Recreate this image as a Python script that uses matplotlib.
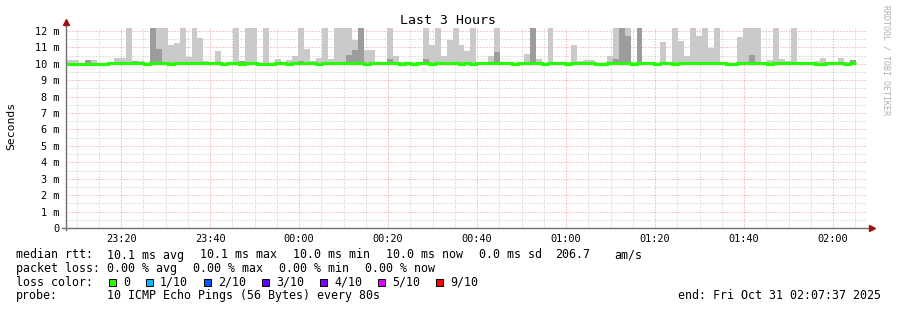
#smokeping style "Last 3 Hours" latency graph, redrawn with matplotlib

import numpy as np
import pandas as pd
import matplotlib
matplotlib.use("Agg")
import matplotlib.pyplot as plt
import matplotlib.dates as mdates
from matplotlib.patches import Rectangle

W, H = 897, 310

#time range of the graph and the probe step
END = "2025-10-31 02:07:37"
FIRST_STEP = "2025-10-30 23:07:50"
STEP_S = 80

F = 12.5 #smoke that runs off the top of the graph (ms)
SMOKE_MIN = 9.96 #lowest ping of the smoke (ms)

#highest ping of each step (light grey smoke), ms
smoke_top = [
    10.25, 10.25, 10.05, 10.25, 10.25, 10.05, 10.05, 10.05, 10.35, 10.35,
    F, 10.15, 10.15, 10.05, F, F, F, 11.15, 11.25, F,
    10.4, F, 11.6, 10.15, 10.1, 10.8, 10.05, 10.12, F, 10.2,
    F, F, 10.05, F, 10.05, 10.3, 10.05, 10.25, 10.45, F,
    10.9, 10.15, 10.35, F, 10.3, F, F, F, 11.45, F,
    10.85, 10.85, 10.05, 10.05, F, 10.5, 10.1, 10.05, 10.05, 10.12,
    F, 11.15, F, 10.45, 11.45, F, 11.15, 10.75, F, 10.12,
    10.05, 10.45, F, 10.05, 10.05, 10.05, 10.05, 10.6, F, 10.3,
    10.05, F, 10.05, 10.05, 10.1, 11.15, 10.2, 10.25, 10.25, 10.05,
    10.05, 10.5, F, F, F, 10.05, F, 10.05, 10.05, 10.05,
    11.35, 10.05, F, 11.4, 10.5, F, 11.7, F, 10.95, F,
    10.1, 10.05, 10.05, 11.65, F, F, F, 10.05, 10.25, F,
    10.3, 10.15, F, 10.1, 10.05, 10.05, 10.15, 10.35, 10.05, 10.05,
    10.35, 10.1, 10.25,
]

#second highest ping of each step (dark grey smoke), ms
smoke_dark = [
    10.0, 10.0, 10.0, 10.25, 10.0, 10.0, 10.0, 10.0, 10.0, 10.0,
    10.0, 10.15, 10.0, 10.0, F, 10.9, 10.0, 10.0, 10.0, 10.0,
    10.0, 10.0, 10.0, 10.12, 10.0, 10.0, 10.0, 10.0, 10.0, 10.15,
    10.0, 10.0, 10.0, 10.0, 10.0, 10.0, 10.0, 10.0, 10.0, 10.15,
    10.0, 10.0, 10.0, 10.0, 10.0, 10.0, 10.0, 10.55, 10.85, F,
    10.0, 10.0, 10.0, 10.0, 10.3, 10.0, 10.0, 10.0, 10.0, 10.0,
    10.3, 10.0, 10.0, 10.0, 10.0, 10.0, 10.0, 10.0, 10.0, 10.0,
    10.0, 10.0, 10.7, 10.0, 10.0, 10.0, 10.0, 10.0, F, 10.0,
    10.0, 10.0, 10.0, 10.0, 10.0, 10.0, 10.0, 10.0, 10.0, 10.0,
    10.0, 10.0, 10.3, F, 11.7, 10.0, F, 10.0, 10.0, 10.0,
    10.0, 10.0, 10.0, 10.0, 10.0, 10.0, 10.0, 10.0, 10.0, 10.0,
    10.0, 10.0, 10.0, 10.0, 10.0, 10.55, 10.0, 10.0, 10.0, 10.0,
    10.0, 10.0, 10.0, 10.0, 10.0, 10.0, 10.0, 10.0, 10.0, 10.0,
    10.0, 10.0, 10.25,
]

#median rtt of each step, ms
median_rtt = [
    10.01, 10.01, 10.01, 10.01, 10.01, 10.01, 10.01, 10.07, 10.07, 10.07,
    10.04, 10.04, 10.04, 10.00, 10.07, 10.07, 10.07, 10.00, 10.07, 10.04,
    10.04, 10.04, 10.04, 10.04, 10.04, 10.07, 10.01, 10.04, 10.04, 10.00,
    10.04, 10.04, 10.01, 10.00, 10.00, 10.04, 10.04, 10.01, 10.04, 10.07,
    10.07, 10.04, 10.00, 10.04, 10.04, 10.04, 10.04, 10.07, 10.07, 10.07,
    10.01, 10.04, 10.04, 10.04, 10.07, 10.04, 10.01, 10.04, 10.01, 10.04,
    10.04, 10.00, 10.04, 10.07, 10.04, 10.04, 10.01, 10.04, 10.00, 10.04,
    10.04, 10.04, 10.07, 10.04, 10.04, 10.01, 10.04, 10.04, 10.07, 10.04,
    10.01, 10.04, 10.04, 10.04, 10.01, 10.04, 10.04, 10.04, 10.04, 10.00,
    10.00, 10.04, 10.04, 10.07, 10.04, 10.00, 10.04, 10.04, 10.07, 10.01,
    10.04, 10.04, 10.01, 10.04, 10.04, 10.04, 10.04, 10.04, 10.04, 10.04,
    10.04, 10.01, 10.01, 10.04, 10.04, 10.07, 10.07, 10.07, 10.01, 10.04,
    10.04, 10.07, 10.07, 10.04, 10.04, 10.04, 10.01, 10.01, 10.04, 10.04,
    10.04, 10.01, 10.04,
]

y_ticks = list(range(0, 13))

#legend texts
rtt_items = ["10.1 ms avg", "10.1 ms max", "10.0 ms min", "10.0 ms now", "0.0 ms sd"]
loss_items = ["0.00 % avg", "0.00 % max", "0.00 % min", "0.00 % now"]
loss_labels = ["0", "1/10", "2/10", "3/10", "4/10", "5/10", "9/10"]
loss_colors = ["#26ff00", "#00b8ff", "#0059ff", "#5e00ff", "#7e00ff", "#dd00ff", "#ff0000"]
probe_text = "10 ICMP Echo Pings (56 Bytes) every 80s"
end_text = "end: Fri Oct 31 02:07:37 2025"

MONO = "DejaVu Sans Mono"
plt.rcParams["font.family"] = MONO


def fig_text(fig, x, y, s, **kw):
    #place text using pixel coords measured from the top left
    kw.setdefault("size", 8.4)
    kw.setdefault("ha", "left")
    kw.setdefault("va", "baseline")
    fig.text(x / W, 1 - y / H, s, **kw)


def main():
    fig = plt.figure(figsize=(W / 100, H / 100), dpi=100, facecolor="white")
    ax = fig.add_axes([66 / W, 82 / H, 801 / W, 200 / H])

    n = len(median_rtt)
    step = STEP_S / 86400.0
    t0 = mdates.date2num(pd.Timestamp(FIRST_STEP))
    edges = t0 + np.arange(n + 1) * step
    top = np.array(smoke_top)
    dark = np.array(smoke_dark)
    med = np.array(median_rtt)

    #smoke: light grey for the outer ping, darker for the next one
    ax.bar(edges[:-1], top - SMOKE_MIN, width=step, bottom=SMOKE_MIN, align="edge",
           color="#cacaca", linewidth=0, antialiased=False, zorder=2)
    ax.bar(edges[:-1], np.maximum(dark - SMOKE_MIN, 0), width=step, bottom=SMOKE_MIN,
           align="edge", color="#9c9c9c", linewidth=0, antialiased=False, zorder=3)

    #median line coloured by packet loss (all 0 here)
    ax.stairs(med, edges, baseline=None, color=loss_colors[0], linewidth=2.3, zorder=4)

    end = pd.Timestamp(END)
    ax.set_xlim(mdates.date2num(end - pd.Timedelta(hours=3)), mdates.date2num(end))
    ax.set_ylim(0, 12.18)

    ax.xaxis.set_major_locator(mdates.MinuteLocator(byminute=[0, 20, 40]))
    ax.xaxis.set_minor_locator(mdates.MinuteLocator(byminute=range(0, 60, 5)))
    ax.xaxis.set_major_formatter(mdates.DateFormatter("%H:%M"))
    ax.set_yticks(y_ticks)
    ax.set_yticks(np.arange(0.5, 12.5, 1.0), minor=True)
    ax.set_yticklabels([f"{v} m" if v else "0" for v in y_ticks])

    ax.set_axisbelow(True)
    ax.grid(which="major", color="#f09494", linestyle=(0, (1, 2)), linewidth=0.72)
    ax.grid(which="minor", color="#c4c4c4", linestyle=(0, (1, 2)), linewidth=0.72)

    ax.tick_params(which="both", length=0)
    ax.tick_params(axis="y", pad=5, labelsize=7.4)
    ax.tick_params(axis="x", pad=4, labelsize=7.4)
    for s in ax.spines.values():
        s.set_visible(False)

    #axis lines with the little red arrows
    ax.plot([0, 0], [-0.01, 1.025], transform=ax.transAxes, color="#707070",
            lw=1.0, clip_on=False, zorder=5)
    ax.plot([-0.005, 1.003], [0, 0], transform=ax.transAxes, color="#707070",
            lw=1.0, clip_on=False, zorder=5)
    ax.plot([0], [1.03], marker="^", ms=4.5, color="#a01010", transform=ax.transAxes,
            clip_on=False, zorder=6)
    ax.plot([1.006], [0], marker=">", ms=4.5, color="#a01010", transform=ax.transAxes,
            clip_on=False, zorder=6)

    #title and side texts
    fig_text(fig, 448, 24, "Last 3 Hours", size=9.5, ha="center")
    fig_text(fig, 11, 126, "Seconds", size=8.2, ha="center", va="center", rotation=90)
    fig_text(fig, 886, 5, "RRDTOOL / TOBI OETIKER", size=6, ha="center", va="top",
             rotation=270, color="#b0b0b0")

    #legend, 7 px per character, 16 px between items
    cw, gap = 7.0, 16
    fig_text(fig, 16, 258.5, "median rtt:")
    x = 107
    for s in rtt_items:
        fig_text(fig, x, 258.5, s)
        x += len(s) * cw + gap
    fig_text(fig, 555, 258.5, "206.7")
    fig_text(fig, 614, 258.5, "am/s")

    fig_text(fig, 16, 272, "packet loss:")
    x = 107
    for s in loss_items:
        fig_text(fig, x, 272, s)
        x += len(s) * cw + gap

    fig_text(fig, 16, 285.8, "loss color:")
    x = 109
    for lab, col in zip(loss_labels, loss_colors):
        fig.add_artist(Rectangle((x / W, 1 - 286 / H), 7 / W, 7 / H, transform=fig.transFigure,
                                 facecolor=col, edgecolor="black", linewidth=0.7))
        fig_text(fig, x + 14, 285.8, lab)
        x += 14 + len(lab) * cw + gap

    fig_text(fig, 16, 299.4, "probe:")
    fig_text(fig, 107, 299.4, probe_text)
    fig_text(fig, 881, 299.4, end_text, ha="right")

    fig.savefig("out.png", dpi=100, facecolor="white")
    plt.close(fig)


if __name__ == "__main__":
    main()
